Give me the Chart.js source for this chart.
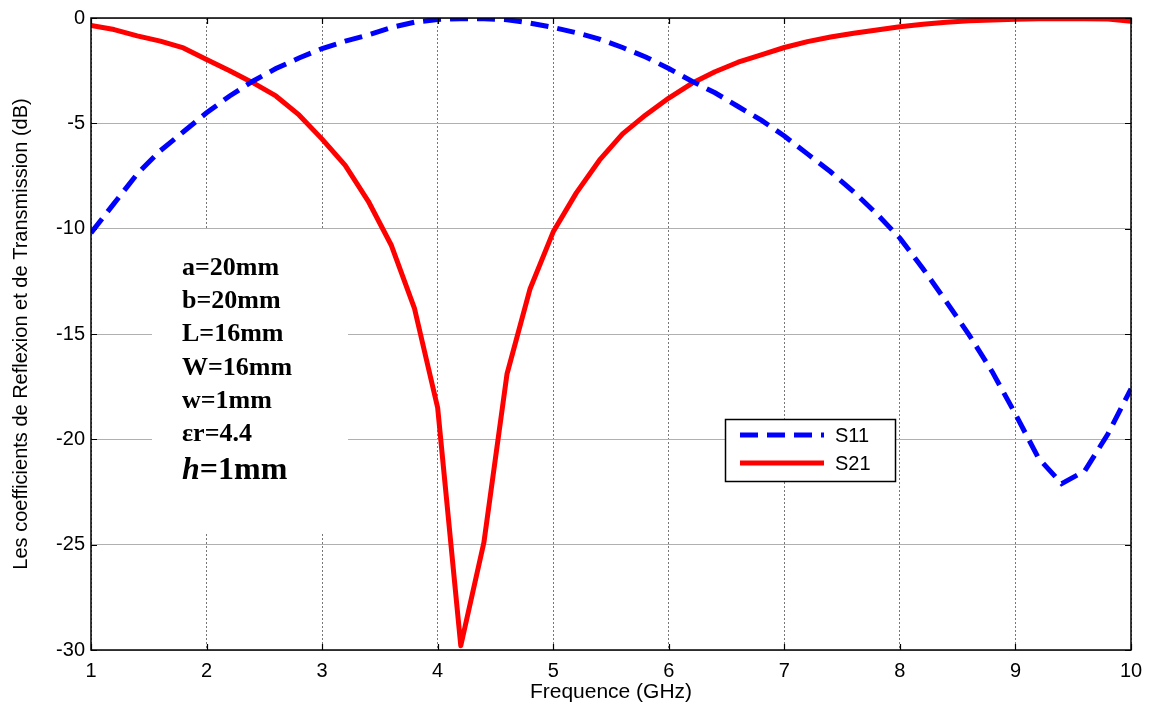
<!DOCTYPE html>
<html>
<head>
<meta charset="utf-8">
<script src="https://cdn.jsdelivr.net/npm/chart.js@4.4.1/dist/chart.umd.min.js"></script>
<style>
  html, body { margin: 0; padding: 0; background: #fff; }
  #wrap { width: 1157px; height: 708px; }
</style>
</head>
<body>
<div id="wrap"><canvas id="c" width="1157" height="708"></canvas></div>
<script>
// Frequency sweep (GHz)
const freq = [1.0, 1.2, 1.4, 1.6, 1.8, 2.0, 2.2, 2.4, 2.6, 2.8,
              3.0, 3.2, 3.4, 3.6, 3.8, 4.0, 4.2, 4.4, 4.6, 4.8,
              5.0, 5.2, 5.4, 5.6, 5.8, 6.0, 6.2, 6.4, 6.6, 6.8,
              7.0, 7.2, 7.4, 7.6, 7.8, 8.0, 8.2, 8.4, 8.6, 8.8,
              9.0, 9.2, 9.4, 9.6, 9.8, 10.0];

// Reflection coefficient S11 (dB)
const s11 = [-10.2, -8.8, -7.4, -6.3, -5.4, -4.5, -3.7, -3.0, -2.4, -1.9,
             -1.45, -1.1, -0.8, -0.45, -0.2, -0.07, -0.03, -0.03, -0.08, -0.24,
             -0.45, -0.7, -1.0, -1.4, -1.85, -2.4, -3.0, -3.55, -4.2, -4.85,
             -5.6, -6.45, -7.3, -8.25, -9.3, -10.45, -11.9, -13.45, -15.05, -16.8,
             -18.8, -20.9, -22.1, -21.5, -19.75, -17.6];

// Transmission coefficient S21 (dB)
const s21 = [-0.36, -0.55, -0.85, -1.1, -1.42, -1.97, -2.5, -3.07, -3.7, -4.6,
             -5.75, -7.0, -8.7, -10.8, -13.8, -18.5, -29.8, -24.9, -16.9, -12.85,
             -10.15, -8.3, -6.75, -5.5, -4.6, -3.8, -3.1, -2.55, -2.1, -1.75,
             -1.4, -1.12, -0.9, -0.72, -0.57, -0.42, -0.3, -0.2, -0.13, -0.09,
             -0.06, -0.04, -0.03, -0.03, -0.05, -0.15];

const xTicks = [1, 2, 3, 4, 5, 6, 7, 8, 9, 10];
const yTicks = [0, -5, -10, -15, -20, -25, -30];

// Structure parameters printed inside the plot
const paramLines = ['a=20mm', 'b=20mm', 'L=16mm', 'W=16mm', 'w=1mm', '\u03b5r=4.4'];
const heightLabel = { symbol: 'h', rest: '=1mm' };

const seriesNames = ['S11', 'S21'];

const toPoints = (ys) => freq.map((f, i) => ({ x: f, y: ys[i] }));

// Parameter text block with white background
const paramPlugin = {
  id: 'params',
  beforeDatasetsDraw(chart) {
    const ctx = chart.ctx;
    ctx.save();
    ctx.fillStyle = '#ffffff';
    ctx.fillRect(152, 230, 196, 302);
    ctx.fillStyle = '#000';
    ctx.textBaseline = 'alphabetic';
    ctx.textAlign = 'left';
    ctx.font = 'bold 26px "Liberation Serif", "Times New Roman", serif';
    const x0 = 182;
    paramLines.forEach((t, i) => {
      ctx.fillText(t, x0, 275 + i * 33.2);
    });
    ctx.font = 'italic bold 32px "Liberation Serif", "Times New Roman", serif';
    ctx.fillText(heightLabel.symbol, x0, 479);
    const w = ctx.measureText(heightLabel.symbol).width;
    ctx.font = 'bold 32px "Liberation Serif", "Times New Roman", serif';
    ctx.fillText(heightLabel.rest, x0 + w, 479);
    ctx.restore();
  }
};

// Axes box, inward ticks and legend
const framePlugin = {
  id: 'frame',
  afterDatasetsDraw(chart) {
    const ctx = chart.ctx;
    const { left, right, top, bottom } = chart.chartArea;
    const xs = chart.scales.x, ys = chart.scales.y;
    ctx.save();
    ctx.strokeStyle = '#000';
    ctx.lineWidth = 1.5;
    ctx.strokeRect(left, top, right - left, bottom - top);
    ctx.lineWidth = 1.2;
    ctx.beginPath();
    xTicks.forEach(v => {
      const px = Math.round(xs.getPixelForValue(v)) + 0.5;
      ctx.moveTo(px, bottom); ctx.lineTo(px, bottom - 6);
      ctx.moveTo(px, top); ctx.lineTo(px, top + 6);
    });
    yTicks.forEach(v => {
      const py = Math.round(ys.getPixelForValue(v)) + 0.5;
      ctx.moveTo(left, py); ctx.lineTo(left + 6, py);
      ctx.moveTo(right, py); ctx.lineTo(right - 6, py);
    });
    ctx.stroke();

    // legend
    const lx = 725, ly = 419, lw = 170, lh = 62;
    ctx.fillStyle = '#fff';
    ctx.fillRect(lx, ly, lw, lh);
    ctx.lineWidth = 1.5;
    ctx.strokeStyle = '#000';
    ctx.strokeRect(lx + 0.5, ly + 0.5, lw, lh);
    ctx.font = '20px "Liberation Sans", Arial, sans-serif';
    ctx.textBaseline = 'middle';
    ctx.textAlign = 'left';
    chart.data.datasets.forEach((ds, i) => {
      const yy = 435 + i * 28;
      ctx.beginPath();
      ctx.strokeStyle = ds.borderColor;
      ctx.lineWidth = ds.borderWidth;
      ctx.lineCap = 'butt';
      ctx.setLineDash(ds.borderDash || []);
      ctx.moveTo(740, yy); ctx.lineTo(824, yy);
      ctx.stroke();
      ctx.setLineDash([]);
      ctx.fillStyle = '#000';
      ctx.fillText(ds.label, 835, yy + 1);
    });
    ctx.restore();
  }
};

new Chart(document.getElementById('c'), {
  type: 'line',
  data: {
    datasets: [
      {
        label: seriesNames[0],
        data: toPoints(s11),
        borderColor: '#0000ff',
        borderWidth: 5,
        borderDash: [18, 9],
        borderCapStyle: 'butt',
        pointRadius: 0,
        tension: 0,
        fill: false,
        clip: 0
      },
      {
        label: seriesNames[1],
        data: toPoints(s21),
        borderColor: '#ff0000',
        borderWidth: 5,
        borderJoinStyle: 'round',
        pointRadius: 0,
        tension: 0,
        fill: false,
        clip: 0
      }
    ]
  },
  options: {
    responsive: false,
    animation: false,
    devicePixelRatio: 1,
    layout: { padding: { top: 15, right: 26, left: 0, bottom: 0 } },
    plugins: { legend: { display: false }, tooltip: { enabled: false } },
    scales: {
      x: {
        type: 'linear',
        min: 1, max: 10,
        afterBuildTicks: (s) => { s.ticks = xTicks.map(v => ({ value: v })); },
        afterFit: (s) => { s.height = 58; },
        ticks: {
          color: '#000',
          padding: 9,
          maxRotation: 0,
          font: { family: '"Liberation Sans", Arial, sans-serif', size: 20 }
        },
        grid: { color: '#777', lineWidth: 1, drawTicks: false },
        border: { display: false, dash: [2, 2] },
        title: {
          display: true,
          text: 'Frequence (GHz)',
          color: '#000',
          padding: { top: 3, bottom: 3 },
          font: { family: '"Liberation Sans", Arial, sans-serif', size: 21 }
        }
      },
      y: {
        type: 'linear',
        min: -30, max: 0,
        afterBuildTicks: (s) => { s.ticks = yTicks.map(v => ({ value: v })); },
        afterFit: (s) => { s.width = 91; },
        ticks: {
          color: '#000',
          padding: 6,
          font: { family: '"Liberation Sans", Arial, sans-serif', size: 20 }
        },
        grid: { color: '#b0b0b0', lineWidth: 1, drawTicks: false },
        border: { display: false },
        title: {
          display: true,
          text: 'Les coefficients de Reflexion et de Transmission (dB)',
          color: '#000',
          padding: { top: 9, bottom: 9 },
          font: { family: '"Liberation Sans", Arial, sans-serif', size: 20 }
        }
      }
    }
  },
  plugins: [paramPlugin, framePlugin]
});
</script>
</body>
</html>
